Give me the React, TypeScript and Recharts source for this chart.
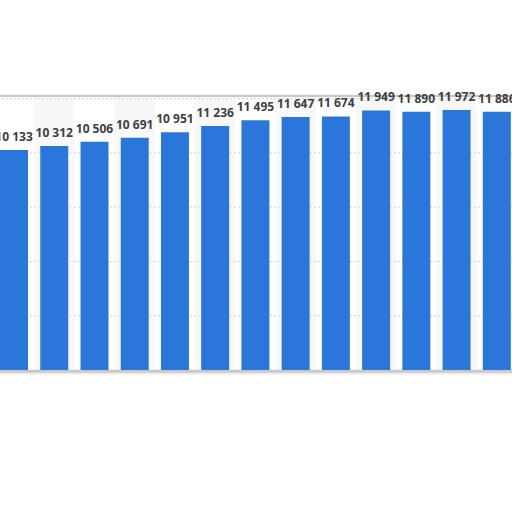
import React from "react";
import { BarChart, Bar, XAxis, YAxis, CartesianGrid, LabelList, ReferenceArea } from "recharts";

// x-axis labels are cropped out of the picture; years are placeholders
const years = ["2008", "2009", "2010", "2011", "2012", "2013", "2014", "2015", "2016", "2017", "2018", "2019", "2020"];
const values = [10133, 10312, 10506, 10691, 10951, 11236, 11495, 11647, 11674, 11949, 11890, 11972, 11886];
const yTicks = [0, 2500, 5000, 7500, 10000];

const data = years.map((year, i) => ({ year, value: values[i] }));
const shadedYears = years.filter((_, i) => i % 2 === 1);

const fmt = (v: any) => String(v).replace(/\B(?=(\d{3})+(?!\d))/g, " ");

// plain text label so the number isn't wrapped to the bar width
const ValueLabel = (props: any) => {
  const { x, y, width, value } = props;
  return (
    <text
      x={Number(x) + Number(width) / 2}
      y={Number(y) - 9}
      textAnchor="middle"
      fontFamily="'Open Sans', sans-serif"
      fontSize={12}
      fontWeight={700}
      fill="#404040"
    >
      {fmt(value)}
    </text>
  );
};

export default function App() {
  return (
    <div
      style={{
        position: "absolute",
        left: 0,
        top: 0,
        width: 512,
        height: 512,
        overflow: "hidden",
        background: "#fff",
      }}
    >
      <div
        style={{
          position: "absolute",
          left: -12,
          top: 95,
          width: 540,
          height: 273,
          border: "2px solid #c8c8c8",
          borderRadius: 6,
          boxShadow: "0 1px 3px rgba(0,0,0,0.25)",
          background: "#fff",
        }}
      />
      <div style={{ position: "absolute", left: -6, top: 80 }}>
        <BarChart
          width={523}
          height={290}
          data={data}
          margin={{ top: 18.5, right: 0, bottom: 0, left: 0 }}
          barCategoryGap="15%"
        >
          {shadedYears.map((y) => (
            <ReferenceArea key={y} x1={y} x2={y} fill="#ececec" fillOpacity={0.35} stroke="none" />
          ))}
          <CartesianGrid vertical={false} stroke="#d0d0d0" strokeDasharray="2 2" />
          <XAxis dataKey="year" hide />
          <YAxis hide domain={[0, 12500]} ticks={yTicks} />
          <Bar dataKey="value" fill="#2a76db" isAnimationActive={false}>
            <LabelList dataKey="value" content={ValueLabel} />
          </Bar>
        </BarChart>
      </div>
    </div>
  );
}
